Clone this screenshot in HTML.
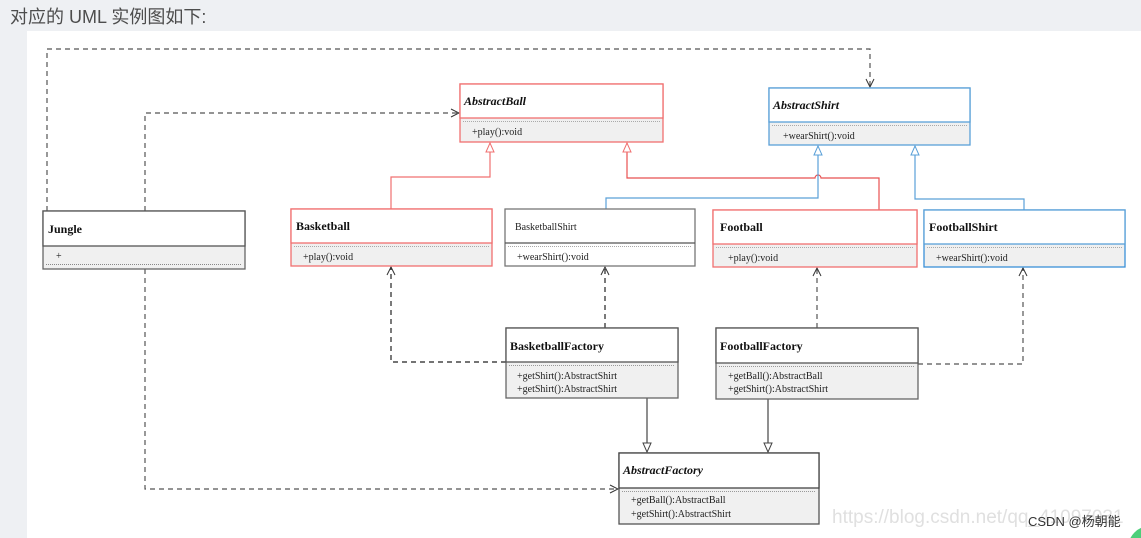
<!DOCTYPE html>
<html><head><meta charset="utf-8"><style>
html,body{margin:0;padding:0;width:1141px;height:538px;overflow:hidden;background:#eef0f3;}
svg{position:absolute;left:0;top:0;display:block;}
.t{font-family:"Liberation Serif",serif;font-size:12px;font-weight:bold;fill:#111;}
.ti{font-family:"Liberation Serif",serif;font-size:12px;font-weight:bold;font-style:italic;fill:#111;}
.m{font-family:"Liberation Serif",serif;font-size:10px;fill:#222;}
</style></head><body>
<svg width="1141" height="538" viewBox="0 0 1141 538" xmlns="http://www.w3.org/2000/svg">
<defs>
<clipPath id="clip"><rect x="0" y="0" width="1141" height="538"/></clipPath>
<marker id="open" markerWidth="10" markerHeight="10" refX="9" refY="5" orient="auto" markerUnits="userSpaceOnUse"><path d="M1,1 L9,5 L1,9" fill="none" stroke="#333" stroke-width="1"/></marker>
<marker id="triR" markerWidth="12" markerHeight="12" refX="10" refY="6" orient="auto" markerUnits="userSpaceOnUse"><path d="M1,2 L10,6 L1,10 Z" fill="#fff" stroke="#f07070" stroke-width="1"/></marker>
<marker id="triB" markerWidth="12" markerHeight="12" refX="10" refY="6" orient="auto" markerUnits="userSpaceOnUse"><path d="M1,2 L10,6 L1,10 Z" fill="#fff" stroke="#5aa0d8" stroke-width="1"/></marker>
<marker id="triK" markerWidth="12" markerHeight="12" refX="10" refY="6" orient="auto" markerUnits="userSpaceOnUse"><path d="M1,2 L10,6 L1,10 Z" fill="#fff" stroke="#444" stroke-width="1"/></marker>
</defs>
<g clip-path="url(#clip)">
<text x="10" y="23" font-family="'Liberation Sans','Noto Sans CJK SC',sans-serif" font-size="18" fill="#4d4d4d">对应的 UML 实例图如下:</text>
<rect x="27" y="31" width="1114" height="507" fill="#fff"/>

<g fill="none" stroke-width="1.2">
<path d="M47,211 V49 H870 V87" stroke="#555" stroke-dasharray="5,4" marker-end="url(#open)"/>
<path d="M145,211 V113 H459" stroke="#555" stroke-dasharray="5,4" marker-end="url(#open)"/>
<path d="M145,269 V489 H618" stroke="#555" stroke-dasharray="5,4" marker-end="url(#open)"/>
<path d="M391,209 V177 H490 V143" stroke="#f07070" marker-end="url(#triR)"/>
<path d="M879,210 V178 H821 a3,3 0 0 0 -6,0 H627 V143" stroke="#e85050" marker-end="url(#triR)"/>
<path d="M606,209 V198 H818 V146" stroke="#5aa0d8" marker-end="url(#triB)"/>
<path d="M1024,210 V199 H915 V146" stroke="#5aa0d8" marker-end="url(#triB)"/>
<path d="M506,362 H391 V267" stroke="#222" stroke-dasharray="5,4" marker-end="url(#open)"/>
<path d="M605,328 V267" stroke="#222" stroke-dasharray="5,4" marker-end="url(#open)"/>
<path d="M817,328 V268" stroke="#555" stroke-dasharray="5,4" marker-end="url(#open)"/>
<path d="M918,364 H1023 V268" stroke="#555" stroke-dasharray="5,4" marker-end="url(#open)"/>
<path d="M647,398 V452" stroke="#444" marker-end="url(#triK)"/>
<path d="M768,399 V452" stroke="#444" marker-end="url(#triK)"/>
</g>

<g stroke-width="1.3">
<rect x="460" y="84" width="203" height="58" fill="#f0f0f0" stroke="#f07070"/>
<rect x="460" y="84" width="203" height="34" fill="#fff" stroke="#f07070"/>
<line x1="463" y1="121.5" x2="660" y2="121.5" stroke="#aaa" stroke-width="1" stroke-dasharray="1,1"/>
<rect x="769" y="88" width="201" height="57" fill="#f0f0f0" stroke="#5aa0d8"/>
<rect x="769" y="88" width="201" height="34" fill="#fff" stroke="#5aa0d8"/>
<line x1="772" y1="125.5" x2="967" y2="125.5" stroke="#aaa" stroke-width="1" stroke-dasharray="1,1"/>
<rect x="43" y="211" width="202" height="58" fill="#f0f0f0" stroke="#666"/>
<rect x="43" y="211" width="202" height="35" fill="#fff" stroke="#555"/>
<line x1="46" y1="264.5" x2="242" y2="264.5" stroke="#888" stroke-width="1" stroke-dasharray="1,1"/>
<rect x="291" y="209" width="201" height="57" fill="#f0f0f0" stroke="#f07070"/>
<rect x="291" y="209" width="201" height="34" fill="#fff" stroke="#f07070"/>
<line x1="294" y1="246.5" x2="489" y2="246.5" stroke="#aaa" stroke-width="1" stroke-dasharray="1,1"/>
<rect x="505" y="209" width="190" height="57" fill="#fff" stroke="#777"/>
<line x1="505" y1="243" x2="695" y2="243" stroke="#555"/>
<line x1="508" y1="246.5" x2="692" y2="246.5" stroke="#aaa" stroke-width="1" stroke-dasharray="1,1"/>
<rect x="713" y="210" width="204" height="57" fill="#f0f0f0" stroke="#f07070"/>
<rect x="713" y="210" width="204" height="34" fill="#fff" stroke="#f07070"/>
<line x1="716" y1="247.5" x2="914" y2="247.5" stroke="#aaa" stroke-width="1" stroke-dasharray="1,1"/>
<rect x="924" y="210" width="201" height="57" fill="#f0f0f0" stroke="#3a90d8"/>
<rect x="924" y="210" width="201" height="34" fill="#fff" stroke="#5aa0d8"/>
<line x1="927" y1="247.5" x2="1122" y2="247.5" stroke="#aaa" stroke-width="1" stroke-dasharray="1,1"/>
<rect x="506" y="328" width="172" height="70" fill="#f0f0f0" stroke="#666"/>
<rect x="506" y="328" width="172" height="34" fill="#fff" stroke="#555"/>
<line x1="509" y1="365.5" x2="675" y2="365.5" stroke="#999" stroke-width="1" stroke-dasharray="1,1"/>
<rect x="716" y="328" width="202" height="71" fill="#f0f0f0" stroke="#666"/>
<rect x="716" y="328" width="202" height="35" fill="#fff" stroke="#555"/>
<line x1="719" y1="366.5" x2="915" y2="366.5" stroke="#999" stroke-width="1" stroke-dasharray="1,1"/>
<rect x="619" y="453" width="200" height="71" fill="#f0f0f0" stroke="#555"/>
<rect x="619" y="453" width="200" height="35" fill="#fff" stroke="#444"/>
<line x1="622" y1="491.5" x2="816" y2="491.5" stroke="#999" stroke-width="1" stroke-dasharray="1,1"/>
</g>

<text class="ti" x="464" y="105">AbstractBall</text>
<text class="m" x="472" y="135">+play():void</text>
<text class="ti" x="773" y="109">AbstractShirt</text>
<text class="m" x="783" y="139">+wearShirt():void</text>
<text class="t" x="48" y="233">Jungle</text>
<text class="m" x="56" y="259">+</text>
<text class="t" x="296" y="230">Basketball</text>
<text class="m" x="303" y="260">+play():void</text>
<text class="m" x="515" y="230">BasketballShirt</text>
<text class="m" x="517" y="260">+wearShirt():void</text>
<text class="t" x="720" y="231">Football</text>
<text class="m" x="728" y="261">+play():void</text>
<text class="t" x="929" y="231">FootballShirt</text>
<text class="m" x="936" y="261">+wearShirt():void</text>
<text class="t" x="510" y="350">BasketballFactory</text>
<text class="m" x="517" y="379">+getShirt():AbstractShirt</text>
<text class="m" x="517" y="392">+getShirt():AbstractShirt</text>
<text class="t" x="720" y="350">FootballFactory</text>
<text class="m" x="728" y="379">+getBall():AbstractBall</text>
<text class="m" x="728" y="392">+getShirt():AbstractShirt</text>
<text class="ti" x="623" y="474">AbstractFactory</text>
<text class="m" x="631" y="503">+getBall():AbstractBall</text>
<text class="m" x="631" y="517">+getShirt():AbstractShirt</text>

<text x="832" y="523" font-family="'Liberation Sans',sans-serif" font-size="19" fill="#e0e0e0">https://blog.csdn.net/qq_41097031</text>
<text x="1028" y="526" font-family="'Liberation Sans','Noto Sans CJK SC',sans-serif" font-size="13" fill="#333">CSDN @杨朝能</text>
<circle cx="1150" cy="548" r="22" fill="#4ccf7a"/>
</g>
</svg>
</body></html>
